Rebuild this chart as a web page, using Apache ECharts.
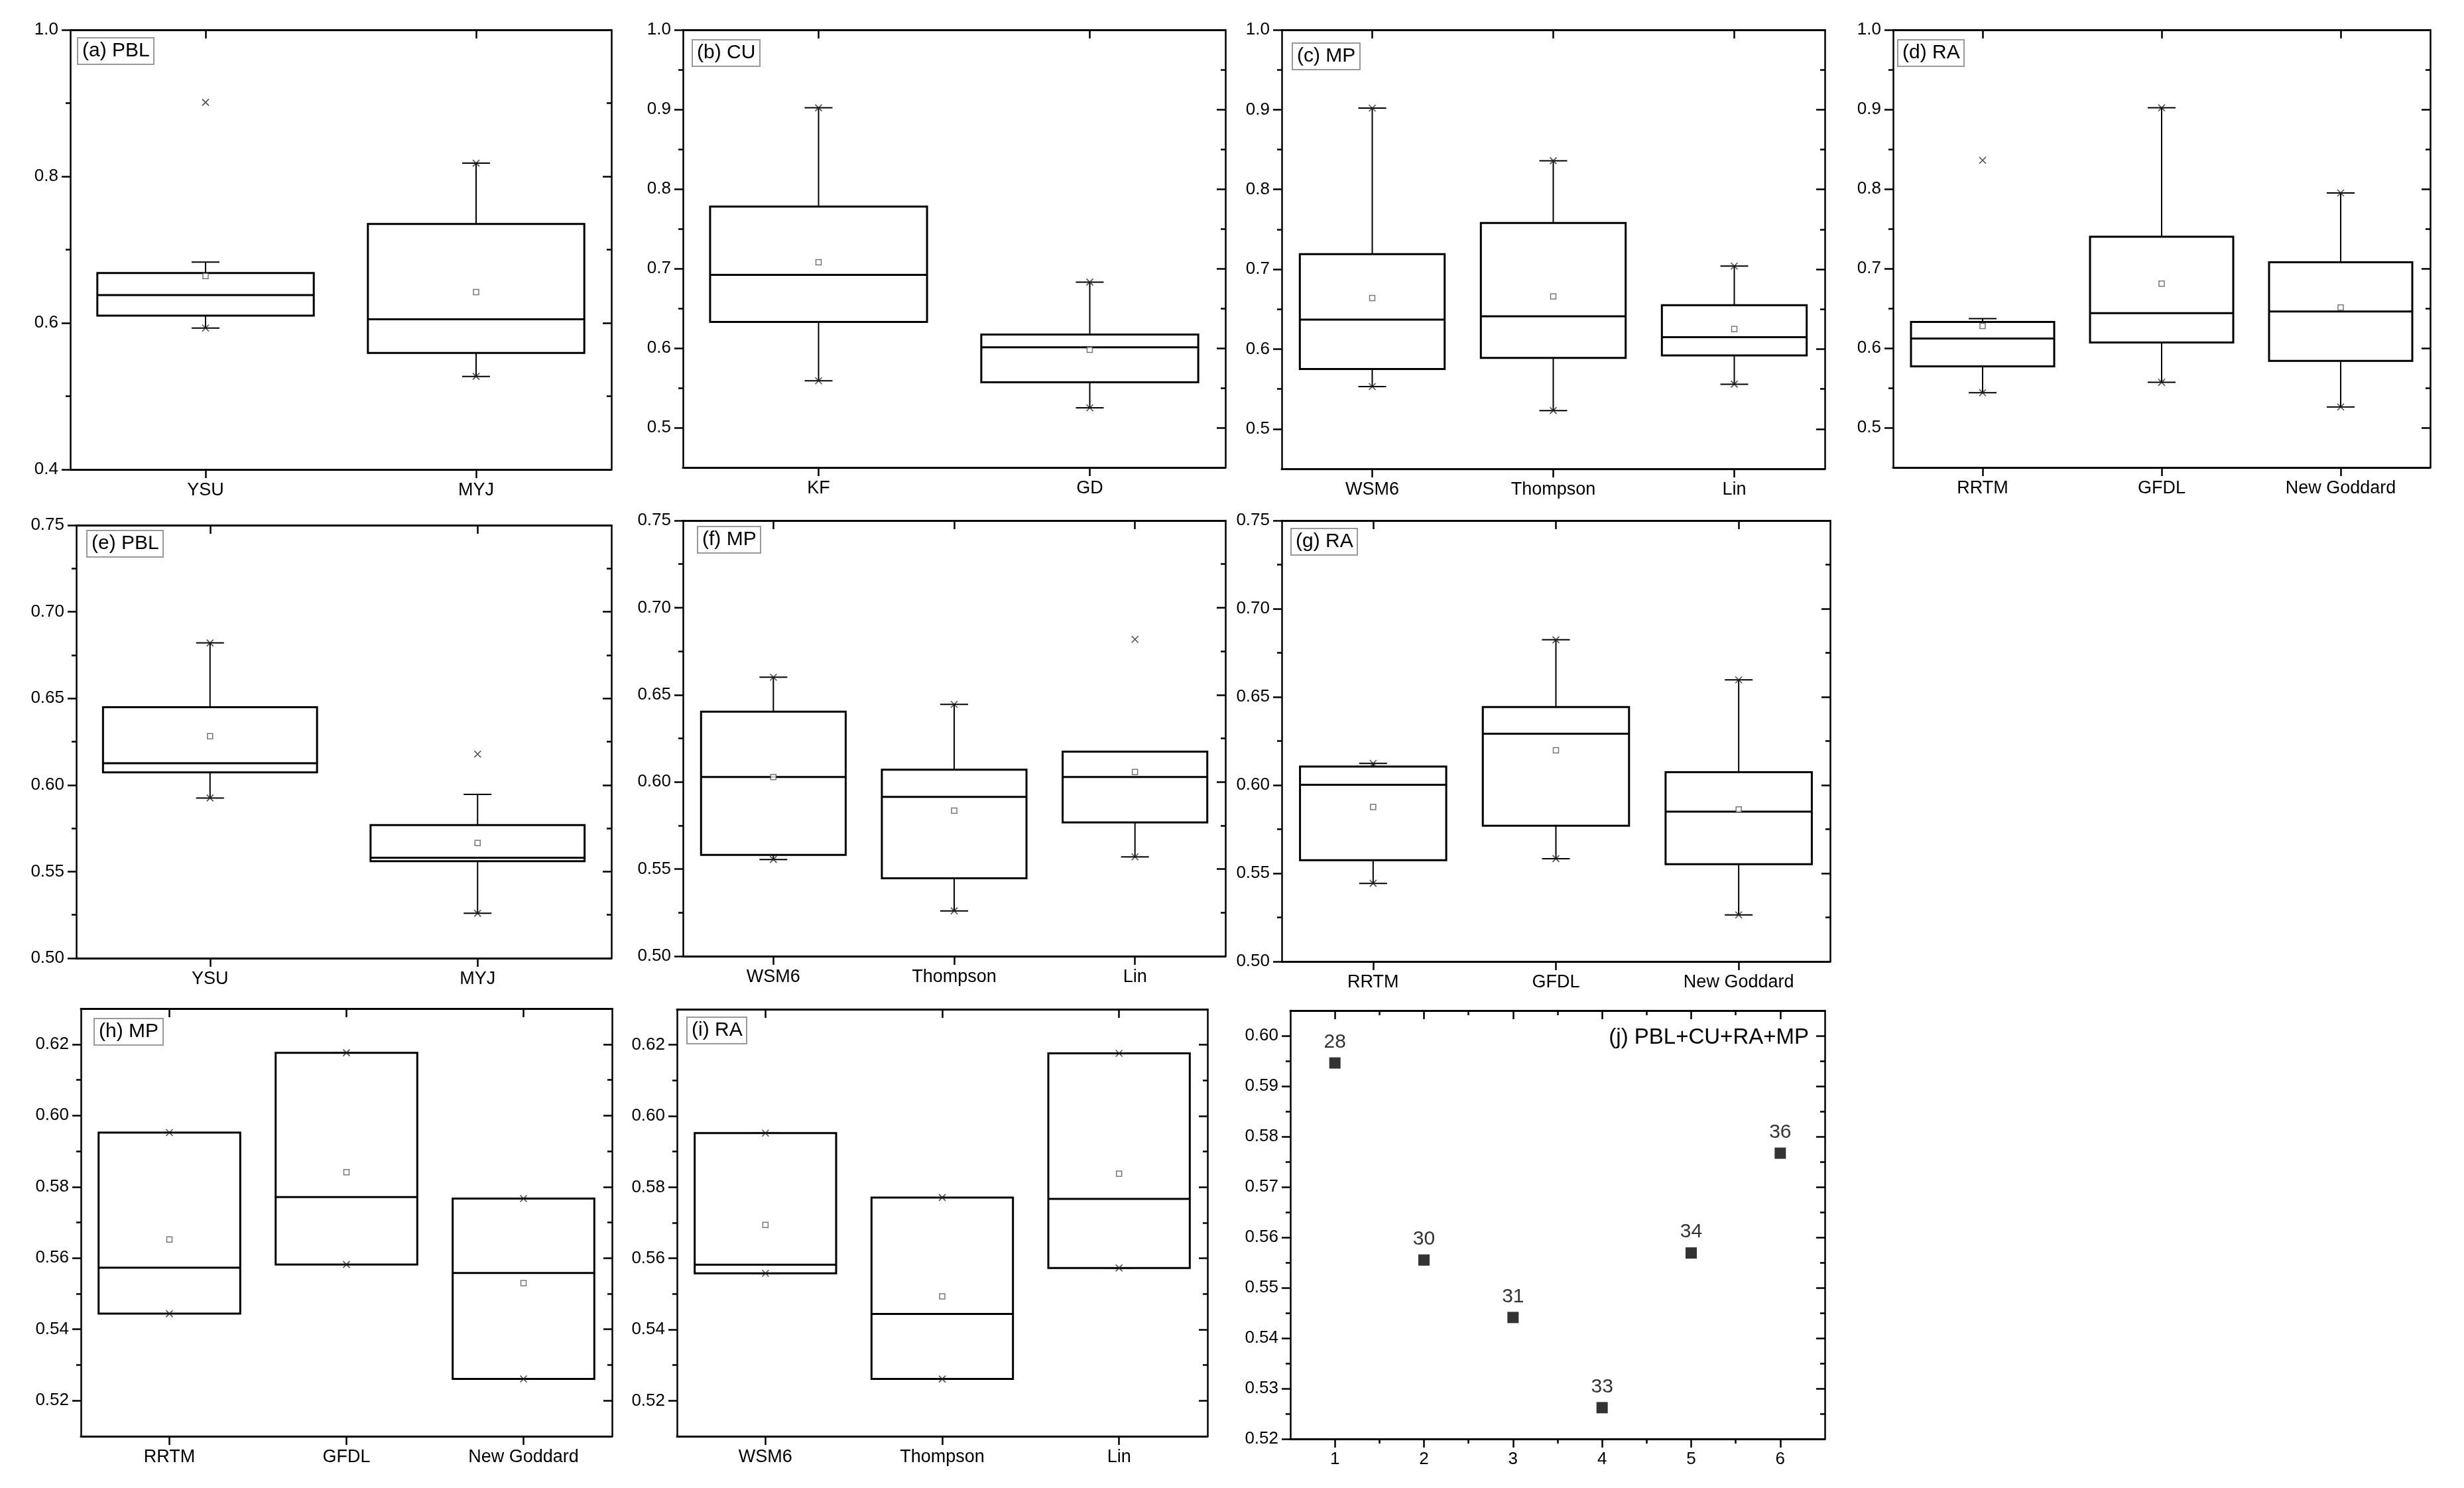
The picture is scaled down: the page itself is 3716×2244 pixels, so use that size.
<!DOCTYPE html>
<html><head><meta charset="utf-8">
<script src="https://cdn.jsdelivr.net/npm/echarts@6/dist/echarts.min.js"></script>
<style>html,body{margin:0;padding:0;background:#fff}#c{width:3716px;height:2244px}</style>
</head><body><div id="c"></div>
<script>
// ---------------- DATA ----------------
const catsPBL = ['YSU', 'MYJ'];
const catsCU = ['KF', 'GD'];
const catsMP = ['WSM6', 'Thompson', 'Lin'];
const catsRA = ['RRTM', 'GFDL', 'New Goddard'];

// box stats: [lower whisker, Q1, median, Q3, upper whisker]
// (a) PBL
const boxA = [[0.593, 0.610, 0.638, 0.668, 0.683], [0.527, 0.559, 0.605, 0.735, 0.818]];
const meanA = [0.664, 0.642];
const extA = [[0.593, 0.901], [0.527, 0.818]];
// (b) CU
const boxB = [[0.559, 0.633, 0.692, 0.778, 0.902], [0.525, 0.557, 0.601, 0.617, 0.683]];
const meanB = [0.708, 0.598];
const extB = [[0.559, 0.902], [0.525, 0.683]];
// (c) MP
const boxC = [[0.553, 0.575, 0.637, 0.719, 0.902], [0.523, 0.589, 0.641, 0.758, 0.836], [0.556, 0.592, 0.615, 0.655, 0.704]];
const meanC = [0.664, 0.666, 0.625];
const extC = [[0.553, 0.902], [0.523, 0.836], [0.556, 0.704]];
// (d) RA
const boxD = [[0.544, 0.577, 0.612, 0.633, 0.637], [0.557, 0.607, 0.644, 0.740, 0.902], [0.526, 0.584, 0.646, 0.708, 0.795]];
const meanD = [0.628, 0.681, 0.651];
const extD = [[0.544, 0.836], [0.557, 0.902], [0.526, 0.795]];
// (e) PBL
const boxE = [[0.5925, 0.6073, 0.6126, 0.6449, 0.682], [0.5259, 0.556, 0.558, 0.5769, 0.5946]];
const meanE = [0.6282, 0.5665];
const extE = [[0.5925, 0.682], [0.5259, 0.6178]];
// (f) MP
const boxF = [[0.5555, 0.5581, 0.6028, 0.6403, 0.6601], [0.526, 0.5447, 0.5914, 0.607, 0.6445], [0.557, 0.5768, 0.6028, 0.6174, 0.6174]];
const meanF = [0.6028, 0.5835, 0.6057];
const extF = [[0.5555, 0.6601], [0.526, 0.6445], [0.557, 0.6818]];
// (g) RA
const boxG = [[0.5443, 0.5574, 0.6002, 0.6105, 0.6123], [0.5583, 0.577, 0.6291, 0.6443, 0.6824], [0.5264, 0.5552, 0.585, 0.6073, 0.6597]];
const meanG = [0.5876, 0.6197, 0.5862];
const extG = [[0.5443, 0.6123], [0.5583, 0.6824], [0.5264, 0.6597]];
// (h) MP
const boxH = [[0.5444, 0.5444, 0.5573, 0.5952, 0.5952], [0.5582, 0.5582, 0.5771, 0.6176, 0.6176], [0.5261, 0.5261, 0.5558, 0.5767, 0.5767]];
const meanH = [0.5652, 0.5841, 0.553];
const extH = [[0.5444, 0.5952], [0.5582, 0.6176], [0.5261, 0.5767]];
// (i) RA
const boxI = [[0.5558, 0.5558, 0.5582, 0.5952, 0.5952], [0.5261, 0.5261, 0.5444, 0.5771, 0.5771], [0.5573, 0.5573, 0.5767, 0.6176, 0.6176]];
const meanI = [0.5694, 0.5493, 0.5838];
const extI = [[0.5558, 0.5952], [0.5261, 0.5771], [0.5573, 0.6176]];
// (j) PBL+CU+RA+MP
const runX = [1, 2, 3, 4, 5, 6];
const runY = [0.5946, 0.5555, 0.5441, 0.5262, 0.5569, 0.5767];
const runLabels = ['28', '30', '31', '33', '34', '36'];

// tick values
const yTicksA = [0.4, 0.6, 0.8, 1.0];
const yMinorA = [0.5, 0.7, 0.9];
const yTicksBCD = [0.5, 0.6, 0.7, 0.8, 0.9, 1.0];
const yMinorBCD = [0.55, 0.65, 0.75, 0.85, 0.95];
const yTicksEFG = [0.50, 0.55, 0.60, 0.65, 0.70, 0.75];
const yMinorEFG = [0.525, 0.575, 0.625, 0.675, 0.725];
const yTicksHI = [0.52, 0.54, 0.56, 0.58, 0.60, 0.62];
const yMinorHI = [0.53, 0.55, 0.57, 0.59, 0.61];
const yTicksJ = [0.52, 0.53, 0.54, 0.55, 0.56, 0.57, 0.58, 0.59, 0.60];
const yMinorJ = [0.525, 0.535, 0.545, 0.555, 0.565, 0.575, 0.585, 0.595];
const xTicksJ = [1, 2, 3, 4, 5, 6];
const xMinorJ = [1.5, 2.5, 3.5, 4.5, 5.5];

// ---------------- BUILD ----------------
const FONT = 'Liberation Sans, Arial, Helvetica, sans-serif';
const grids = [], xAxes = [], yAxes = [], series = [], titles = [];

function renderBox(params, api) {
  const x = api.value(0);
  const pLow = api.coord([x, api.value(1)]);
  const pQ1 = api.coord([x, api.value(2)]);
  const pMed = api.coord([x, api.value(3)]);
  const pQ3 = api.coord([x, api.value(4)]);
  const pHigh = api.coord([x, api.value(5)]);
  const bw = api.size([1, 0])[0] * 0.8;
  const cx = pLow[0], h = bw / 2, c = 21;
  const st = { stroke: '#000', lineWidth: 2, fill: null };
  return { type: 'group', children: [
    { type: 'line', shape: { x1: cx, y1: pQ1[1], x2: cx, y2: pLow[1] }, style: st },
    { type: 'line', shape: { x1: cx, y1: pQ3[1], x2: cx, y2: pHigh[1] }, style: st },
    { type: 'line', shape: { x1: cx - c, y1: pLow[1], x2: cx + c, y2: pLow[1] }, style: st },
    { type: 'line', shape: { x1: cx - c, y1: pHigh[1], x2: cx + c, y2: pHigh[1] }, style: st },
    { type: 'rect', shape: { x: cx - h, y: pQ3[1], width: bw, height: pQ1[1] - pQ3[1] }, style: { stroke: '#000', lineWidth: 3, fill: 'rgba(0,0,0,0)' } },
    { type: 'line', shape: { x1: cx - h, y1: pMed[1], x2: cx + h, y2: pMed[1] }, style: { stroke: '#000', lineWidth: 3 } }
  ]};
}

function addYAxes(g, min, max, major, minor, dec) {
  const base = { gridIndex: g, type: 'value', min: min, max: max, splitLine: { show: false } };
  const i0 = yAxes.length;
  const line = { show: true, onZero: false, lineStyle: { color: '#000', width: 2.5 } };
  yAxes.push(Object.assign({}, base, { position: 'left', axisLine: line,
    axisTick: { show: true, inside: false, length: 13, lineStyle: { color: '#000', width: 2.5 }, customValues: major },
    axisLabel: { show: true, customValues: major, formatter: v => Number(v).toFixed(dec), fontSize: 26, color: '#000', margin: 18, fontFamily: FONT } }));
  yAxes.push(Object.assign({}, base, { position: 'left', axisLine: { show: false, onZero: false },
    axisTick: { show: true, inside: false, length: 7, lineStyle: { color: '#000', width: 2.5 }, customValues: minor },
    axisLabel: { show: false } }));
  yAxes.push(Object.assign({}, base, { position: 'right', axisLine: line,
    axisTick: { show: true, inside: true, length: 13, lineStyle: { color: '#000', width: 2.5 }, customValues: major },
    axisLabel: { show: false } }));
  yAxes.push(Object.assign({}, base, { position: 'right', axisLine: { show: false, onZero: false },
    axisTick: { show: true, inside: true, length: 7, lineStyle: { color: '#000', width: 2.5 }, customValues: minor },
    axisLabel: { show: false } }));
  return i0;
}

function addCatXAxes(g, cats) {
  const i0 = xAxes.length;
  const line = { show: true, onZero: false, lineStyle: { color: '#000', width: 3 } };
  xAxes.push({ gridIndex: g, type: 'category', data: cats, position: 'bottom', boundaryGap: true, axisLine: line,
    axisTick: { show: true, alignWithLabel: true, inside: false, length: 13, lineStyle: { color: '#000', width: 2.5 } },
    axisLabel: { show: true, fontSize: 27, color: '#000', margin: 18, fontFamily: FONT } });
  xAxes.push({ gridIndex: g, type: 'category', data: cats, position: 'top', boundaryGap: true, axisLine: line,
    axisTick: { show: true, alignWithLabel: true, inside: true, length: 13, lineStyle: { color: '#000', width: 2.5 } },
    axisLabel: { show: false } });
  return i0;
}

function addBoxPanel(p) {
  const g = grids.length;
  grids.push({ left: p.rect[0], top: p.rect[1], width: p.rect[2] - p.rect[0], height: p.rect[3] - p.rect[1], containLabel: false });
  const xi = addCatXAxes(g, p.cats);
  const yi = addYAxes(g, p.y[0], p.y[1], p.yMaj, p.yMin, p.dec);
  series.push({ type: 'custom', xAxisIndex: xi, yAxisIndex: yi, renderItem: renderBox, clip: false,
    encode: { x: 0, y: [1, 2, 3, 4, 5] },
    data: p.box.map((b, i) => [i].concat(b)) });
  series.push({ type: 'scatter', xAxisIndex: xi, yAxisIndex: yi, symbol: 'rect', symbolSize: 8,
    itemStyle: { color: '#fff', borderColor: '#555', borderWidth: 1.5 },
    data: p.mean.map((m, i) => [i, m]) });
  const ext = [];
  p.ext.forEach((e, i) => { ext.push([i, e[0]]); ext.push([i, e[1]]); });
  series.push({ type: 'scatter', xAxisIndex: xi, yAxisIndex: yi, symbol: 'path://M0,0L10,10M10,0L0,10', symbolSize: 10,
    itemStyle: { color: 'rgba(0,0,0,0)', borderColor: '#222', borderWidth: 1.6 },
    data: ext });
  titles.push({ text: p.label, left: p.lab[0], top: p.lab[1], padding: [5, 7, 5, 7],
    borderColor: '#999', borderWidth: 2,
    textStyle: { fontSize: 30, fontWeight: 'normal', color: '#000', fontFamily: FONT } });
}

addBoxPanel({ rect: [106, 45, 922, 708], cats: catsPBL, box: boxA, mean: meanA, ext: extA, y: [0.4, 1.0], yMaj: yTicksA, yMin: yMinorA, dec: 1, label: '(a) PBL', lab: [117, 57] });
addBoxPanel({ rect: [1030, 45, 1848, 705], cats: catsCU, box: boxB, mean: meanB, ext: extB, y: [0.45, 1.0], yMaj: yTicksBCD, yMin: yMinorBCD, dec: 1, label: '(b) CU', lab: [1044, 60] });
addBoxPanel({ rect: [1933, 45, 2752, 707], cats: catsMP, box: boxC, mean: meanC, ext: extC, y: [0.45, 1.0], yMaj: yTicksBCD, yMin: yMinorBCD, dec: 1, label: '(c) MP', lab: [1949, 65] });
addBoxPanel({ rect: [2855, 45, 3665, 705], cats: catsRA, box: boxD, mean: meanD, ext: extD, y: [0.45, 1.0], yMaj: yTicksBCD, yMin: yMinorBCD, dec: 1, label: '(d) RA', lab: [2862, 60] });
addBoxPanel({ rect: [115, 792, 922, 1445], cats: catsPBL, box: boxE, mean: meanE, ext: extE, y: [0.5, 0.75], yMaj: yTicksEFG, yMin: yMinorEFG, dec: 2, label: '(e) PBL', lab: [131, 800] });
addBoxPanel({ rect: [1030, 785, 1848, 1442], cats: catsMP, box: boxF, mean: meanF, ext: extF, y: [0.5, 0.75], yMaj: yTicksEFG, yMin: yMinorEFG, dec: 2, label: '(f) MP', lab: [1052, 794] });
addBoxPanel({ rect: [1933, 785, 2760, 1450], cats: catsRA, box: boxG, mean: meanG, ext: extG, y: [0.5, 0.75], yMaj: yTicksEFG, yMin: yMinorEFG, dec: 2, label: '(g) RA', lab: [1947, 797] });
addBoxPanel({ rect: [122, 1521, 923, 2166], cats: catsRA, box: boxH, mean: meanH, ext: extH, y: [0.51, 0.63], yMaj: yTicksHI, yMin: yMinorHI, dec: 2, label: '(h) MP', lab: [142, 1536] });
addBoxPanel({ rect: [1021, 1522, 1821, 2166], cats: catsMP, box: boxI, mean: meanI, ext: extI, y: [0.51, 0.63], yMaj: yTicksHI, yMin: yMinorHI, dec: 2, label: '(i) RA', lab: [1036, 1534] });

// (j) scatter panel
(function () {
  const g = grids.length;
  grids.push({ left: 1946, top: 1524, width: 2752 - 1946, height: 2170 - 1524, containLabel: false });
  const xi = xAxes.length;
  const line = { show: true, onZero: false, lineStyle: { color: '#000', width: 3 } };
  const xb = { gridIndex: g, type: 'value', min: 0.5, max: 6.5, splitLine: { show: false } };
  xAxes.push(Object.assign({}, xb, { position: 'bottom', axisLine: line,
    axisTick: { show: true, inside: false, length: 13, lineStyle: { color: '#000', width: 2.5 }, customValues: xTicksJ },
    axisLabel: { show: true, customValues: xTicksJ, fontSize: 26, color: '#000', margin: 18, fontFamily: FONT } }));
  xAxes.push(Object.assign({}, xb, { position: 'bottom', axisLine: { show: false, onZero: false },
    axisTick: { show: true, inside: false, length: 7, lineStyle: { color: '#000', width: 2.5 }, customValues: xMinorJ },
    axisLabel: { show: false } }));
  xAxes.push(Object.assign({}, xb, { position: 'top', axisLine: line,
    axisTick: { show: true, inside: true, length: 13, lineStyle: { color: '#000', width: 2.5 }, customValues: xTicksJ },
    axisLabel: { show: false } }));
  xAxes.push(Object.assign({}, xb, { position: 'top', axisLine: { show: false, onZero: false },
    axisTick: { show: true, inside: true, length: 7, lineStyle: { color: '#000', width: 2.5 }, customValues: xMinorJ },
    axisLabel: { show: false } }));
  const yi = addYAxes(g, 0.52, 0.605, yTicksJ, yMinorJ, 2);
  series.push({ type: 'scatter', xAxisIndex: xi, yAxisIndex: yi, symbol: 'rect', symbolSize: 17,
    itemStyle: { color: '#000' },
    label: { show: true, position: 'top', distance: 8, formatter: p => p.value[2], fontSize: 30, color: '#000', fontFamily: FONT },
    data: runX.map((x, i) => [x, runY[i], runLabels[i]]) });
  titles.push({ text: '(j) PBL+CU+RA+MP', right: 3716 - 2728, top: 1548, padding: 0,
    textStyle: { fontSize: 33, fontWeight: 'normal', color: '#000', fontFamily: FONT } });
})();

const chart = echarts.init(document.getElementById('c'), null, { renderer: 'canvas' });
chart.setOption({
  animation: false,
  backgroundColor: '#fff',
  title: titles,
  grid: grids,
  xAxis: xAxes,
  yAxis: yAxes,
  series: series
});
</script>
</body></html>
